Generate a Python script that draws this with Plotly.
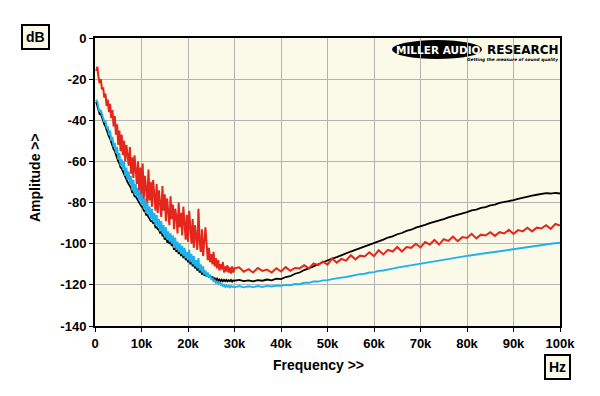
import plotly.graph_objects as go

# ---- data (frequency in kHz, amplitude in dB) ----
freq_low = [0.25, 0.5, 0.75, 1.0, 1.25, 1.5, 1.75, 2.0, 2.25, 2.5, 2.75, 3.0, 3.25, 3.5, 3.75, 4.0,
            4.25, 4.5, 4.75, 5.0, 5.25, 5.5, 5.75, 6.0, 6.25, 6.5, 6.75, 7.0, 7.25, 7.5, 7.75, 8.0,
            8.25, 8.5, 8.75, 9.0, 9.25, 9.5, 9.75, 10.0, 10.25, 10.5, 10.75, 11.0, 11.25, 11.5, 11.75, 12.0,
            12.25, 12.5, 12.75, 13.0, 13.25, 13.5, 13.75, 14.0, 14.25, 14.5, 14.75, 15.0, 15.25, 15.5, 15.75, 16.0,
            16.25, 16.5, 16.75, 17.0, 17.25, 17.5, 17.75, 18.0, 18.25, 18.5, 18.75, 19.0, 19.25, 19.5, 19.75, 20.0,
            20.25, 20.5, 20.75, 21.0, 21.25, 21.5, 21.75, 22.0, 22.25, 22.5, 22.75, 23.0, 23.25, 23.5, 23.75, 24.0,
            24.25, 24.5, 24.75, 25.0, 25.25, 25.5, 25.75, 26.0, 26.25, 26.5, 26.75, 27.0, 27.25, 27.5, 27.75, 28.0,
            28.25, 28.5, 28.75, 29.0, 29.25, 29.5, 29.75, 30.0]
freq_high = [31, 32, 33, 34, 35, 36, 37, 38, 39, 40, 41, 42, 43, 44, 45, 46, 47, 48, 49, 50,
             51, 52, 53, 54, 55, 56, 57, 58, 59, 60, 61, 62, 63, 64, 65, 66, 67, 68, 69, 70,
             71, 72, 73, 74, 75, 76, 77, 78, 79, 80, 81, 82, 83, 84, 85, 86, 87, 88, 89, 90,
             91, 92, 93, 94, 95, 96, 97, 98, 99, 100]

red_low = [-16, -14, -19, -22, -20, -25, -24, -29,
           -27, -33, -30, -36, -32, -39, -35, -43,
           -38, -47, -42, -52, -45, -55, -47, -57,
           -50, -60, -52, -56, -62, -53, -66, -58,
           -68, -57, -64, -71, -60, -74, -63, -76,
           -61, -78, -67, -73, -80, -64, -79, -70,
           -82, -69, -76, -84, -71, -85, -74, -80,
           -87, -72, -84, -76, -89, -78, -85, -91,
           -77, -88, -81, -93, -83, -87, -95, -80,
           -92, -85, -96, -82, -90, -98, -86, -99,
           -84, -95, -100, -88, -102, -91, -97, -103,
           -83, -99, -104, -93, -106, -97, -92, -100,
           -108, -102, -109, -105, -110, -104, -111, -107,
           -112, -108, -113, -110, -112.5, -109, -114, -111,
           -113.5, -110.5, -114, -111.5, -114.5, -111, -114, -112]
red_high = [-111.5, -113.6, -112.4, -114, -111.8, -113.2, -112.6, -114, -111.9, -113.5, -111.4, -113.2, -111.8, -112, -110.4, -112, -109.6, -110.4, -108.6, -110.2,
            -107.2, -109.2, -107.4, -108.2, -105.6, -107.6, -105.8, -106.2, -104.2, -106, -103.2, -105.2, -103, -103.8, -101.6, -103.8, -101.6, -102, -100, -101.8,
            -99.2, -100.4, -98.2, -100.4, -97.8, -98.6, -96.6, -98.8, -96.8, -97.2, -95.2, -97.4, -95.6, -96, -94.4, -96.2, -94.4, -95, -93.2, -95.2,
            -93.4, -94, -92.2, -94, -92.2, -92.6, -91, -92.8, -90.4, -91.2]

black_low = [-31, -32.5, -35, -37, -37, -38.5, -40.5, -42,
             -43, -45, -46, -48, -49, -51, -52, -54,
             -55, -57, -58, -60, -61, -63, -63.5, -65,
             -66, -68, -68.5, -70, -71, -72, -73, -75,
             -75, -77, -77, -78, -79, -80, -80.5, -82,
             -82, -84, -84, -86, -86, -87, -87.5, -89,
             -89, -90, -90, -92, -92, -93, -93, -95,
             -94, -96, -96, -98, -97, -99, -98.5, -100,
             -99, -101, -100, -103, -101, -104, -102, -105,
             -103, -106, -104, -107, -103, -108, -106, -109,
             -106, -110, -108, -111, -109, -112, -110, -113,
             -110, -114, -112, -115, -113, -115.5, -114, -116,
             -115, -116.5, -115.5, -117, -116, -117.5, -116.8, -117.8,
             -117, -118, -117.4, -118.2, -117.5, -118.3, -117.6, -118.2,
             -117.6, -118.3, -117.7, -118.2, -117.6, -118.4, -117.8, -118]
black_high = [-117.6, -118.2, -117.8, -118.3, -117.7, -118, -117.4, -117.8, -117, -117.2, -116.2, -115.8, -114.6, -114, -112.8, -112, -111, -110, -109, -108.2,
              -107.2, -106.5, -105.5, -104.8, -103.8, -103, -102.2, -101.2, -100.5, -99.6, -98.8, -98, -97, -96.4, -95.4, -94.8, -93.8, -93.2, -92.2, -91.6,
              -90.8, -90, -89.4, -88.6, -88, -87.2, -86.6, -85.8, -85.2, -84.6, -83.8, -83.4, -82.6, -82.2, -81.4, -81, -80.2, -79.8, -79.2, -78.8,
              -78.2, -77.6, -77.2, -76.6, -76.2, -75.8, -75.4, -75.6, -75.3, -75.6]

cyan_low = [-30, -31, -34, -36, -35, -37, -39, -41,
            -40, -44, -43, -47, -45, -50, -48, -53,
            -51, -56, -53, -59, -56, -62, -59, -64,
            -60, -67, -63, -69, -65, -71, -67, -74,
            -69, -76, -71, -77, -73, -79, -74, -81,
            -76, -83, -78, -85, -80, -86, -82, -88,
            -83, -89, -85, -91, -86, -92, -88, -94,
            -89, -95, -91, -97, -92, -98, -94, -99,
            -95, -100, -96, -102, -97, -103, -99, -104,
            -100, -105, -101, -106, -102, -107, -104, -108,
            -103, -109, -105, -110, -106, -111, -108, -112,
            -107, -113, -110, -114, -111, -115, -113, -116,
            -114, -116.5, -115, -117.5, -116.5, -118.5, -117.5, -119,
            -118.5, -119.5, -119, -120, -119.5, -120.5, -120, -121,
            -120.3, -121, -120.5, -121.2, -120.6, -121, -120.8, -121.2]
cyan_high = [-120.6, -121.2, -120.7, -121.1, -120.6, -121, -120.5, -120.8, -120.3, -120.5, -120, -120.2, -119.6, -119.7, -119, -119, -118.4, -118.4, -117.8, -117.7,
             -117.2, -117, -116.5, -116.2, -115.7, -115.4, -114.8, -114.6, -114, -113.8, -113.2, -113, -112.4, -112.1, -111.6, -111.2, -110.8, -110.4, -110, -109.6,
             -109.2, -108.8, -108.4, -108, -107.7, -107.3, -107, -106.6, -106.3, -105.9, -105.6, -105.2, -105, -104.6, -104.3, -104, -103.7, -103.3, -103.1, -102.7,
             -102.5, -102.1, -101.8, -101.4, -101.1, -100.7, -100.4, -100, -99.7, -99.5]

x_tick_vals = [0, 10, 20, 30, 40, 50, 60, 70, 80, 90, 100]
x_tick_text = ["0", "10k", "20k", "30k", "40k", "50k", "60k", "70k", "80k", "90k", "100k"]
y_tick_vals = [0, -20, -40, -60, -80, -100, -120, -140]
y_tick_text = ["0", "-20", "-40", "-60", "-80", "-100", "-120", "-140"]

freq = freq_low + freq_high
series = [
    ("black", black_low + black_high, "#000000", 1.8),
    ("cyan", cyan_low + cyan_high, "#1fb2ea", 1.9),
    ("red", red_low + red_high, "#e4261c", 2.0),
]

fig = go.Figure()
for name, vals, col, w in series:
    fig.add_trace(go.Scatter(x=freq, y=vals, mode="lines", name=name,
                             line=dict(color=col, width=w), showlegend=False))

FAM = "Liberation Sans, Arial, sans-serif"
font_b = dict(family=FAM, size=13, color="black", weight="bold")

# page body has an 8px margin, so margins are reduced by 8px to place the plot area at x 95-560, y 38-326
L, T, PW, PH = 87, 30, 465, 288
fig.update_layout(
    width=600, height=396,
    margin=dict(l=L, r=600 - L - PW, t=T, b=396 - T - PH),
    paper_bgcolor="white",
    plot_bgcolor="#fbf9e7",
    xaxis=dict(range=[0, 100], tickvals=x_tick_vals, ticktext=x_tick_text,
               showgrid=True, gridcolor="#b4b4b4", gridwidth=1,
               showline=True, linecolor="black", linewidth=2, mirror=True,
               ticks="outside", ticklen=4, tickcolor="black", tickfont=font_b, zeroline=False),
    yaxis=dict(range=[-140, 0], tickvals=y_tick_vals, ticktext=y_tick_text,
               showgrid=True, gridcolor="#b4b4b4", gridwidth=1,
               showline=True, linecolor="black", linewidth=2, mirror=True,
               ticks="outside", ticklen=4, tickcolor="black", tickfont=font_b, zeroline=False),
)


def px(xp):
    return (xp - 95) / PW


def py(yp):
    return (326 - yp) / PH


fig.add_annotation(text="Frequency >>", xref="paper", yref="paper", x=px(318), y=py(365),
                   xanchor="center", yanchor="middle", showarrow=False,
                   font=dict(family=FAM, size=14, color="black", weight="bold"))
fig.add_annotation(text="Amplitude >>", xref="paper", yref="paper", x=px(35), y=py(178), textangle=-90,
                   xanchor="center", yanchor="middle", showarrow=False,
                   font=dict(family=FAM, size=14, color="black", weight="bold"))
fig.add_annotation(text="dB", xref="paper", yref="paper", x=px(36), y=py(37),
                   xanchor="center", yanchor="middle", showarrow=False,
                   bgcolor="#fbf9e7", bordercolor="black", borderwidth=2, borderpad=3,
                   font=dict(family=FAM, size=14, color="black", weight="bold"))
fig.add_annotation(text="Hz", xref="paper", yref="paper", x=px(557), y=py(367),
                   xanchor="center", yanchor="middle", showarrow=False,
                   bgcolor="#fbf9e7", bordercolor="black", borderwidth=2, borderpad=3,
                   font=dict(family=FAM, size=14, color="black", weight="bold"))

# logo
fig.add_shape(type="circle", xref="paper", yref="paper", layer="below",
              x0=px(392), x1=px(482), y0=py(59), y1=py(40),
              fillcolor="black", line=dict(color="black", width=0))
fig.add_annotation(text="MILLER AUDIO", xref="paper", yref="paper", x=px(438), y=py(49.5),
                   xanchor="center", yanchor="middle", showarrow=False,
                   font=dict(family="DejaVu Sans, sans-serif", size=10.5, color="white", weight="bold"))
fig.add_annotation(text="RESEARCH", xref="paper", yref="paper", x=px(561), y=py(49.5),
                   xanchor="right", yanchor="middle", showarrow=False,
                   font=dict(family="DejaVu Sans, sans-serif", size=12, color="black", weight="bold"))
fig.add_annotation(text="<i>Getting the measure of sound quality</i>", xref="paper", yref="paper",
                   x=px(560), y=py(60), xanchor="right", yanchor="middle", showarrow=False,
                   font=dict(family="DejaVu Sans, sans-serif", size=4.3, color="black", weight="bold"))

fig.write_html("out.html")
